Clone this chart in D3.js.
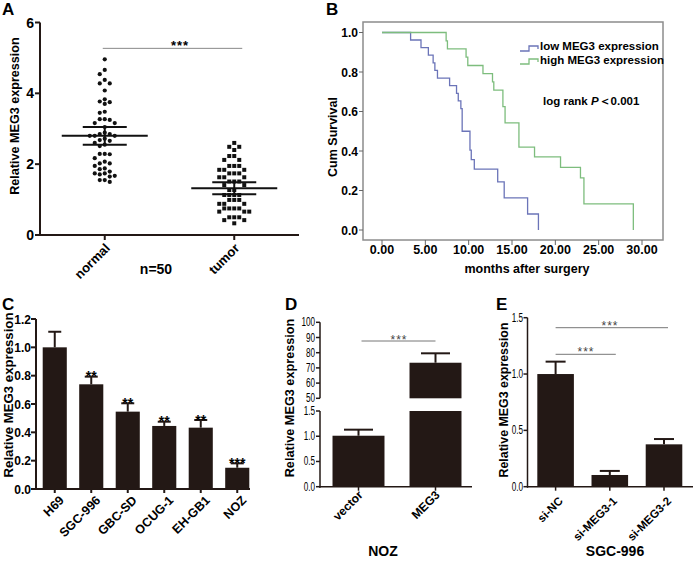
<!DOCTYPE html>
<html><head><meta charset="utf-8">
<script src="https://cdn.jsdelivr.net/npm/d3@7"></script>
<style>
html,body{margin:0;padding:0;background:#fff;}
svg{display:block;font-family:"Liberation Sans",Arial,sans-serif;}
.b{font-weight:bold;}
</style></head>
<body>
<svg id="chart" width="693" height="563"></svg>
<script>
// ---------- DATA ----------
// Panel A
const aGroups = ["normal", "tumor"];
const normalVals = [4.96,4.66,4.54,4.38,4.28,4.28,4.08,3.83,3.77,3.75,3.70,3.48,3.45,3.27,3.27,3.25,3.16,3.16,3.05,2.89,
  2.85,2.85,2.80,2.80,2.80,2.72,2.68,2.66,2.60,2.55,2.51,2.29,2.29,2.28,2.17,2.07,2.02,2.02,1.95,1.88,
  1.86,1.79,1.74,1.74,1.71,1.67,1.65,1.55,1.55,1.50];
const tumorVals = [2.60,2.49,2.49,2.40,2.23,2.23,2.12,2.12,1.95,1.95,1.95,1.84,1.84,1.84,1.74,1.74,1.74,1.63,1.63,1.63,
  1.51,1.51,1.51,1.41,1.41,1.27,1.27,1.13,1.13,1.13,1.13,0.99,0.99,0.99,0.88,0.88,0.88,0.75,0.75,0.75,
  0.75,0.66,0.66,0.66,0.50,0.50,0.50,0.42,0.42,0.33];
const aMeans = [2.80, 1.32];
const aSems = [0.25, 0.17];
const aTicks = [0, 2, 4, 6];

// Panel B (Kaplan-Meier)
const lowMonths = [0,3.3,4.5,5.35,5.9,6.1,6.4,7.8,8.6,8.8,9.1,9.25,10.15,10.3,10.65,13.35,14.1,16.8,18.05];
const lowSurv   = [1.0,0.962,0.923,0.885,0.846,0.808,0.769,0.731,0.692,0.654,0.615,0.5,0.404,0.356,0.308,0.244,0.163,0.081,0.0];
const highMonths = [0,7.4,7.55,9.7,9.9,11.65,12.75,12.9,13.95,14.2,15.8,17.6,20.6,22.9,23.3,29.0];
const highSurv   = [1.0,0.958,0.917,0.875,0.833,0.792,0.75,0.708,0.625,0.542,0.42,0.37,0.317,0.264,0.132,0.0];
const bXTicks = [0,5,10,15,20,25,30];
const bYTicks = [0,0.2,0.4,0.6,0.8,1.0];

// Panel C
const cellLines = ["H69","SGC-996","GBC-SD","OCUG-1","EH-GB1","NOZ"];
const cellVals  = [1.0,0.739,0.546,0.445,0.433,0.150];
const cellErr   = [0.11,0.054,0.059,0.030,0.054,0.031];
const cellSig   = ["","**","**","**","**","***"];
const cTicks = [0,0.2,0.4,0.6,0.8,1.0,1.2];

// Panel D
const dGroups = ["vector","MEG3"];
const dVals = [1.01, 73.4];
const dErr  = [0.12, 6.2];
const dUpperTicks = [50,60,70,80,90,100];
const dLowerTicks = [0,0.5,1.0,1.5];

// Panel E
const eGroups = ["si-NC","si-MEG3-1","si-MEG3-2"];
const eVals = [1.0,0.104,0.376];
const eErr  = [0.11,0.036,0.047];
const eTicks = [0,0.5,1.0,1.5];

// ---------- DRAW ----------
const svg = d3.select("#chart");
const INK = "#231815";

function panelLabel(t,x,y){ svg.append("text").attr("class","b").attr("x",x).attr("y",y).attr("font-size",17).text(t); }
function yTitle(t,x,y,fs){ svg.append("text").attr("class","b").attr("font-size",fs).attr("text-anchor","middle")
  .attr("transform",`translate(${x},${y}) rotate(-90)`).text(t); }
function rotLabel(t,x,y,fs){ svg.append("text").attr("class","b").attr("font-size",fs).attr("text-anchor","end")
  .attr("transform",`translate(${x},${y}) rotate(-45)`).text(t); }
function condensed(sel, f){ sel.each(function(){ const w=this.getComputedTextLength(); d3.select(this).attr("textLength",w*f).attr("lengthAdjust","spacingAndGlyphs");}); }

// ===== Panel A =====
{
  const y = d3.scaleLinear().domain([0,6]).range([235,22.5]);
  const x = d3.scalePoint().domain(aGroups).range([40,299]).padding(0.5);
  const g = svg.append("g");
  g.append("line").attr("x1",40).attr("x2",40).attr("y1",y(6)).attr("y2",y(0)+1).attr("stroke",INK).attr("stroke-width",2);
  g.append("line").attr("x1",39).attr("x2",299).attr("y1",y(0)).attr("y2",y(0)).attr("stroke",INK).attr("stroke-width",2);
  aTicks.forEach(t=>{
    g.append("line").attr("x1",35).attr("x2",40).attr("y1",y(t)).attr("y2",y(t)).attr("stroke",INK).attr("stroke-width",2);
    g.append("text").attr("class","b").attr("font-size",14).attr("text-anchor","end").attr("x",34).attr("y",y(t)+5).text(t);
  });
  aGroups.forEach(c=>{
    g.append("line").attr("x1",x(c)).attr("x2",x(c)).attr("y1",y(0)).attr("y2",y(0)+5).attr("stroke",INK).attr("stroke-width",2);
    rotLabel(c, x(c)+6, y(0)+14, 13);
  });
  function swarm(vals, cx){
    const pts=[]; const sorted=vals.slice().sort((a,b)=>b-a);
    sorted.forEach(v=>{
      const py=y(v);
      for(let k=0;k<40;k++){
        const off = k===0?0:(k%2? -Math.ceil(k/2): Math.ceil(k/2));
        const px = cx + off*5;
        if(!pts.some(p=>(p.x-px)**2+(p.y-py)**2 < 4.4*4.4)){ pts.push({x:px,y:py}); break; }
      }
    });
    return pts;
  }
  swarm(normalVals, x("normal")).forEach(p=>g.append("circle").attr("cx",p.x).attr("cy",p.y).attr("r",2.1).attr("fill","#111"));
  swarm(tumorVals, x("tumor")).forEach(p=>g.append("rect").attr("x",p.x-2).attr("y",p.y-2).attr("width",4).attr("height",4).attr("fill","#111"));
  aGroups.forEach((c,i)=>{
    const cx=x(c);
    g.append("line").attr("x1",cx-43).attr("x2",cx+43).attr("y1",y(aMeans[i])).attr("y2",y(aMeans[i])).attr("stroke","#111").attr("stroke-width",2);
    [aMeans[i]+aSems[i], aMeans[i]-aSems[i]].forEach(v=>g.append("line").attr("x1",cx-22).attr("x2",cx+22).attr("y1",y(v)).attr("y2",y(v)).attr("stroke","#111").attr("stroke-width",2));
    g.append("line").attr("x1",cx).attr("x2",cx).attr("y1",y(aMeans[i]+aSems[i])).attr("y2",y(aMeans[i]-aSems[i])).attr("stroke","#111").attr("stroke-width",2);
  });
  g.append("line").attr("x1",x("normal")-2).attr("x2",x("tumor")+8).attr("y1",y(5.27)).attr("y2",y(5.27)).attr("stroke","#888").attr("stroke-width",1);
  g.append("text").attr("class","b").attr("font-size",13).attr("letter-spacing",1).attr("text-anchor","middle").attr("x",180).attr("y",y(5.27)+1.5).text("***");
  svg.append("text").attr("class","b").attr("font-size",14).attr("text-anchor","middle").attr("x",156).attr("y",274).text("n=50");
  yTitle("Relative MEG3 expression", 19, 116, 12.6);
  panelLabel("A",2,15);
}

// ===== Panel B =====
{
  const x = d3.scaleLinear().domain([0,30]).range([382,642]);
  const y = d3.scaleLinear().domain([0,1]).range([230,32.5]);
  const g = svg.append("g");
  g.append("rect").attr("x",363).attr("y",22).attr("width",300).attr("height",218).attr("fill","none").attr("stroke","#8c8c8c").attr("stroke-width",1.5);
  bYTicks.forEach(t=>{
    g.append("line").attr("x1",359).attr("x2",363).attr("y1",y(t)).attr("y2",y(t)).attr("stroke","#666");
    g.append("text").attr("class","b").attr("font-size",12).attr("text-anchor","end").attr("x",358).attr("y",y(t)+4.5).text(t.toFixed(1));
  });
  bXTicks.forEach(t=>{
    g.append("line").attr("x1",x(t)).attr("x2",x(t)).attr("y1",240).attr("y2",245).attr("stroke","#666");
    g.append("text").attr("class","b").attr("font-size",12.5).attr("text-anchor","middle").attr("x",x(t)).attr("y",254).text(t.toFixed(2));
  });
  const line = d3.line().x(d=>x(d[0])).y(d=>y(d[1])).curve(d3.curveStepAfter);
  g.append("path").attr("d",line(lowMonths.map((m,i)=>[m,lowSurv[i]]))).attr("fill","none").attr("stroke","#6b74b8").attr("stroke-width",1.3);
  g.append("path").attr("d",line(highMonths.map((m,i)=>[m,highSurv[i]]))).attr("fill","none").attr("stroke","#7dbd7d").attr("stroke-width",1.3);
  g.append("path").attr("d","M520,51H529V46H538V49").attr("fill","none").attr("stroke","#6b74b8").attr("stroke-width",1.3);
  g.append("path").attr("d","M520,64H529V59H538V62").attr("fill","none").attr("stroke","#7dbd7d").attr("stroke-width",1.3);
  g.append("text").attr("class","b").attr("font-size",11.5).attr("x",540).attr("y",50).text("low MEG3 expression");
  g.append("text").attr("class","b").attr("font-size",11.5).attr("x",540).attr("y",64).text("high MEG3 expression");
  const lr = g.append("text").attr("class","b").attr("font-size",11.5).attr("x",543).attr("y",105);
  lr.append("tspan").text("log rank ");
  lr.append("tspan").attr("font-style","italic").text("P");
  lr.append("tspan").text("\uFF1C0.001");
  svg.append("text").attr("class","b").attr("font-size",12.5).attr("text-anchor","middle").attr("x",527).attr("y",273).text("months after surgery");
  yTitle("Cum Survival", 337, 137, 12.5);
  panelLabel("B",326,15);
}

function bars(g, x, y, cats, vals, errs, capW){
  cats.forEach((c,i)=>{
    g.append("rect").attr("x",x(c)).attr("y",y(vals[i])).attr("width",x.bandwidth()).attr("height",y(0)-y(vals[i])).attr("fill",INK);
    const cx = x(c)+x.bandwidth()/2;
    g.append("line").attr("x1",cx).attr("x2",cx).attr("y1",y(vals[i])).attr("y2",y(vals[i]+errs[i])).attr("stroke",INK).attr("stroke-width",2);
    g.append("line").attr("x1",cx-capW/2).attr("x2",cx+capW/2).attr("y1",y(vals[i]+errs[i])).attr("y2",y(vals[i]+errs[i])).attr("stroke",INK).attr("stroke-width",2);
  });
}

// ===== Panel C =====
{
  const y = d3.scaleLinear().domain([0,1.2]).range([489,319]);
  const x = d3.scaleBand().domain(cellLines).range([36.5,255.5]).paddingInner(0.34).paddingOuter(0.17);
  const g = svg.append("g");
  bars(g,x,y,cellLines,cellVals,cellErr,13);
  g.append("line").attr("x1",36).attr("x2",36).attr("y1",y(1.2)).attr("y2",y(0)+1).attr("stroke",INK).attr("stroke-width",2);
  g.append("line").attr("x1",35).attr("x2",250).attr("y1",y(0)).attr("y2",y(0)).attr("stroke",INK).attr("stroke-width",2);
  cTicks.forEach(t=>{
    g.append("line").attr("x1",31).attr("x2",36).attr("y1",y(t)).attr("y2",y(t)).attr("stroke",INK).attr("stroke-width",2);
    g.append("text").attr("class","b").attr("font-size",12).attr("text-anchor","end").attr("x",31).attr("y",y(t)+4.5).text(t.toFixed(1));
  });
  cellLines.forEach((c,i)=>{
    const cx = x(c)+x.bandwidth()/2;
    g.append("line").attr("x1",cx).attr("x2",cx).attr("y1",y(0)).attr("y2",y(0)+4).attr("stroke",INK).attr("stroke-width",2);
    rotLabel(c, cx+10, y(0)+12, 12.5);
    if(cellSig[i]) g.append("text").attr("class","b").attr("font-size",14).attr("text-anchor","middle").attr("x",cx).attr("y",y(cellVals[i]+cellErr[i])+4.5).text(cellSig[i]);
  });
  yTitle("Relative MEG3 expression", 13, 395, 13.2);
  panelLabel("C",2,310);
}

// ===== Panel D =====
{
  const yU = d3.scaleLinear().domain([50,100]).range([398.3,322.3]);
  const yL = d3.scaleLinear().domain([0,1.5]).range([486.7,411]);
  const x = d3.scaleBand().domain(dGroups).range([320,474]).paddingInner(0.325).paddingOuter(0.1625);
  const g = svg.append("g");
  const bw = x.bandwidth();
  const cap = 29;
  {
    const c="vector", cx=x(c)+bw/2, v=dVals[0], e=dErr[0];
    g.append("rect").attr("x",x(c)).attr("y",yL(v)).attr("width",bw).attr("height",yL(0)-yL(v)).attr("fill",INK);
    g.append("line").attr("x1",cx).attr("x2",cx).attr("y1",yL(v)).attr("y2",yL(v+e)).attr("stroke",INK).attr("stroke-width",2);
    g.append("line").attr("x1",cx-cap/2).attr("x2",cx+cap/2).attr("y1",yL(v+e)).attr("y2",yL(v+e)).attr("stroke",INK).attr("stroke-width",2);
  }
  {
    const c="MEG3", cx=x(c)+bw/2, v=dVals[1], e=dErr[1];
    g.append("rect").attr("x",x(c)).attr("y",yL(1.5)).attr("width",bw).attr("height",yL(0)-yL(1.5)).attr("fill",INK);
    g.append("rect").attr("x",x(c)).attr("y",yU(v)).attr("width",bw).attr("height",yU(50)-yU(v)).attr("fill",INK);
    g.append("line").attr("x1",cx).attr("x2",cx).attr("y1",yU(v)).attr("y2",yU(v+e)).attr("stroke",INK).attr("stroke-width",2);
    g.append("line").attr("x1",cx-cap/2).attr("x2",cx+cap/2).attr("y1",yU(v+e)).attr("y2",yU(v+e)).attr("stroke",INK).attr("stroke-width",2);
  }
  g.append("line").attr("x1",320).attr("x2",320).attr("y1",yU(100)).attr("y2",yU(50)).attr("stroke",INK).attr("stroke-width",1.5);
  g.append("line").attr("x1",320).attr("x2",320).attr("y1",yL(1.5)).attr("y2",yL(0)+1).attr("stroke",INK).attr("stroke-width",1.5);
  g.append("line").attr("x1",319).attr("x2",472).attr("y1",yL(0)).attr("y2",yL(0)).attr("stroke",INK).attr("stroke-width",1.5);
  const tl = [];
  dUpperTicks.forEach(t=>{
    g.append("line").attr("x1",316).attr("x2",320).attr("y1",yU(t)).attr("y2",yU(t)).attr("stroke",INK).attr("stroke-width",1.5);
    tl.push(g.append("text").attr("font-size",12).attr("text-anchor","end").attr("x",315).attr("y",yU(t)+4).text(t).node());
  });
  dLowerTicks.forEach(t=>{
    g.append("line").attr("x1",316).attr("x2",320).attr("y1",yL(t)).attr("y2",yL(t)).attr("stroke",INK).attr("stroke-width",1.5);
    tl.push(g.append("text").attr("font-size",12).attr("text-anchor","end").attr("x",315).attr("y",yL(t)+4).text(t.toFixed(1)).node());
  });
  condensed(d3.selectAll(tl), 0.68);
  dGroups.forEach(c=>{
    const cx=x(c)+bw/2;
    g.append("line").attr("x1",cx).attr("x2",cx).attr("y1",yL(0)).attr("y2",yL(0)+4).attr("stroke",INK).attr("stroke-width",1.5);
    rotLabel(c, cx+5, yL(0)+9, 12);
  });
  g.append("line").attr("x1",x("vector")+bw/2+3).attr("x2",x("MEG3")+bw/2).attr("y1",341).attr("y2",341).attr("stroke","#777").attr("stroke-width",1);
  g.append("text").attr("font-size",12).attr("fill","#444").attr("letter-spacing",1).attr("text-anchor","middle").attr("x",399).attr("y",344).text("***");
  svg.append("text").attr("class","b").attr("font-size",14).attr("text-anchor","middle").attr("x",383).attr("y",556).text("NOZ");
  yTitle("Relative MEG3 expression", 294, 398, 12.7);
  panelLabel("D",285,310);
}

// ===== Panel E =====
{
  const y = d3.scaleLinear().domain([0,1.5]).range([486.7,317.7]);
  const x = d3.scaleBand().domain(eGroups).range([528.5,691.1]).paddingInner(0.325).paddingOuter(0.1625);
  const g = svg.append("g");
  bars(g,x,y,eGroups,eVals,eErr,20);
  g.append("line").attr("x1",527.5).attr("x2",527.5).attr("y1",y(1.5)).attr("y2",y(0)+1).attr("stroke",INK).attr("stroke-width",1.5);
  g.append("line").attr("x1",527).attr("x2",697).attr("y1",y(0)).attr("y2",y(0)).attr("stroke",INK).attr("stroke-width",1.5);
  const tl=[];
  eTicks.forEach(t=>{
    g.append("line").attr("x1",523.5).attr("x2",527.5).attr("y1",y(t)).attr("y2",y(t)).attr("stroke",INK).attr("stroke-width",1.5);
    tl.push(g.append("text").attr("font-size",12).attr("text-anchor","end").attr("x",523).attr("y",y(t)+4).text(t.toFixed(1)).node());
  });
  condensed(d3.selectAll(tl), 0.68);
  eGroups.forEach(c=>{
    const cx=x(c)+x.bandwidth()/2;
    g.append("line").attr("x1",cx).attr("x2",cx).attr("y1",y(0)).attr("y2",y(0)+4).attr("stroke",INK).attr("stroke-width",1.5);
    rotLabel(c, cx+8, y(0)+15, 11.5);
  });
  const c0 = x("si-NC")+x.bandwidth()/2, c1 = x("si-MEG3-1")+x.bandwidth()/2, c2 = x("si-MEG3-2")+x.bandwidth()/2;
  g.append("line").attr("x1",c0).attr("x2",c2+4).attr("y1",327.7).attr("y2",327.7).attr("stroke","#777").attr("stroke-width",1);
  g.append("line").attr("x1",c0).attr("x2",c1+6).attr("y1",354.3).attr("y2",354.3).attr("stroke","#777").attr("stroke-width",1);
  g.append("text").attr("font-size",12).attr("fill","#444").attr("letter-spacing",1).attr("text-anchor","middle").attr("x",610).attr("y",330).text("***");
  g.append("text").attr("font-size",12).attr("fill","#444").attr("letter-spacing",1).attr("text-anchor","middle").attr("x",586).attr("y",356).text("***");
  svg.append("text").attr("class","b").attr("font-size",14).attr("text-anchor","middle").attr("x",615).attr("y",556).text("SGC-996");
  yTitle("Relative MEG3 expression", 508, 400, 12.4);
  panelLabel("E",496,310);
}
</script>
</body></html>
